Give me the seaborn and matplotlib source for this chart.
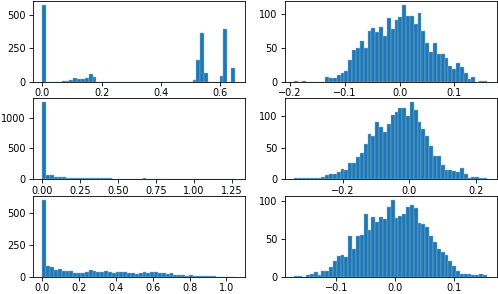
import numpy as np
import pandas as pd
import matplotlib
matplotlib.use("Agg")
import matplotlib.pyplot as plt
from matplotlib.ticker import MultipleLocator
import seaborn as sns

# value ranges of each histogram (50 bins each)
range_a = (0.0, 0.65)
range_b = (-0.1915, 0.159)
range_c = (0.0, 1.27)
range_d = (-0.345, 0.232)
range_e = (0.0, 1.047)
range_f = (-0.1715, 0.156)

# counts per bin
counts_a = [580, 0, 0, 0, 0, 3, 4, 15, 27, 20,
            20, 25, 57, 32, 0, 0, 0, 0, 0, 0,
            0, 0, 0, 0, 0, 0, 0, 0, 0, 0,
            0, 0, 0, 0, 0, 0, 0, 0, 0, 8,
            162, 363, 65, 0, 0, 0, 40, 400, 0, 100]
counts_b = [1, 0, 1, 0, 0, 0, 0, 0, 7, 5,
            5, 10, 13, 16, 32, 47, 50, 60, 50, 74,
            79, 73, 80, 67, 93, 77, 90, 95, 113, 96,
            96, 84, 101, 74, 57, 44, 57, 40, 40, 35,
            23, 19, 27, 22, 13, 4, 6, 0, 1, 1]
counts_c = [1250, 68, 62, 40, 35, 30, 25, 20, 20, 18,
            15, 15, 20, 25, 15, 12, 10, 10, 9, 8,
            8, 7, 7, 6, 6, 6, 10, 8, 6, 5,
            5, 4, 4, 4, 3, 3, 3, 3, 2, 2,
            2, 2, 2, 2, 1, 1, 1, 1, 1, 1]
counts_d = [2, 1, 1, 1, 1, 2, 2, 4, 7, 8,
            8, 11, 16, 15, 26, 26, 35, 42, 56, 72,
            69, 90, 83, 75, 88, 102, 106, 113, 113, 100,
            122, 110, 90, 80, 68, 52, 36, 36, 22, 15,
            15, 13, 11, 17, 8, 1, 3, 3, 2, 2]
counts_e = [600, 85, 78, 55, 57, 45, 48, 48, 30, 28,
            32, 40, 55, 42, 35, 35, 42, 38, 25, 40,
            40, 38, 30, 32, 22, 25, 38, 30, 40, 33,
            30, 25, 18, 30, 12, 10, 10, 8, 12, 5,
            4, 8, 4, 2, 2, 1, 1, 0, 1, 1]
counts_f = [1, 1, 0, 2, 3, 6, 2, 8, 8, 13,
            21, 27, 29, 26, 53, 37, 53, 55, 83, 62,
            78, 72, 78, 76, 91, 101, 77, 80, 82, 91,
            94, 90, 70, 69, 65, 54, 45, 37, 33, 28,
            20, 14, 8, 4, 3, 3, 2, 2, 4, 2]

# tick spacing (x, y) for each panel
tick_steps = [(0.2, 250), (0.1, 50),
              (0.25, 500), (0.2, 50),
              (0.2, 250), (0.1, 50)]

panels = [(range_a, counts_a), (range_b, counts_b),
          (range_c, counts_c), (range_d, counts_d),
          (range_e, counts_e), (range_f, counts_f)]

plt.rcParams.update({
    "font.size": 7.0,
    "axes.linewidth": 0.6,
    "xtick.major.size": 2.7,
    "ytick.major.size": 2.7,
    "xtick.major.width": 0.6,
    "ytick.major.width": 0.6,
    "xtick.major.pad": 2.2,
    "ytick.major.pad": 2.5,
})

fig, axes = plt.subplots(3, 2, figsize=(4.98, 2.94), dpi=100)
fig.subplots_adjust(left=0.066, right=0.997, bottom=0.059, top=0.997,
                    hspace=0.21, wspace=0.19)

for ax, (rng, cnt), (xs, ys) in zip(axes.flat, panels, tick_steps):
    nb = len(cnt)
    step = (rng[1] - rng[0]) / nb
    df = pd.DataFrame({"value": rng[0] + step * (np.arange(nb) + 0.5),
                       "count": cnt})
    sns.histplot(data=df, x="value", weights="count", bins=nb,
                 binrange=rng, ax=ax,
                 color="#1f77b4", alpha=1, edgecolor="#8cb8de",
                 linewidth=0.3)
    ax.xaxis.set_major_locator(MultipleLocator(xs))
    ax.yaxis.set_major_locator(MultipleLocator(ys))
    ax.set_xlabel("")
    ax.set_ylabel("")

fig.savefig("out.png", dpi=100)
